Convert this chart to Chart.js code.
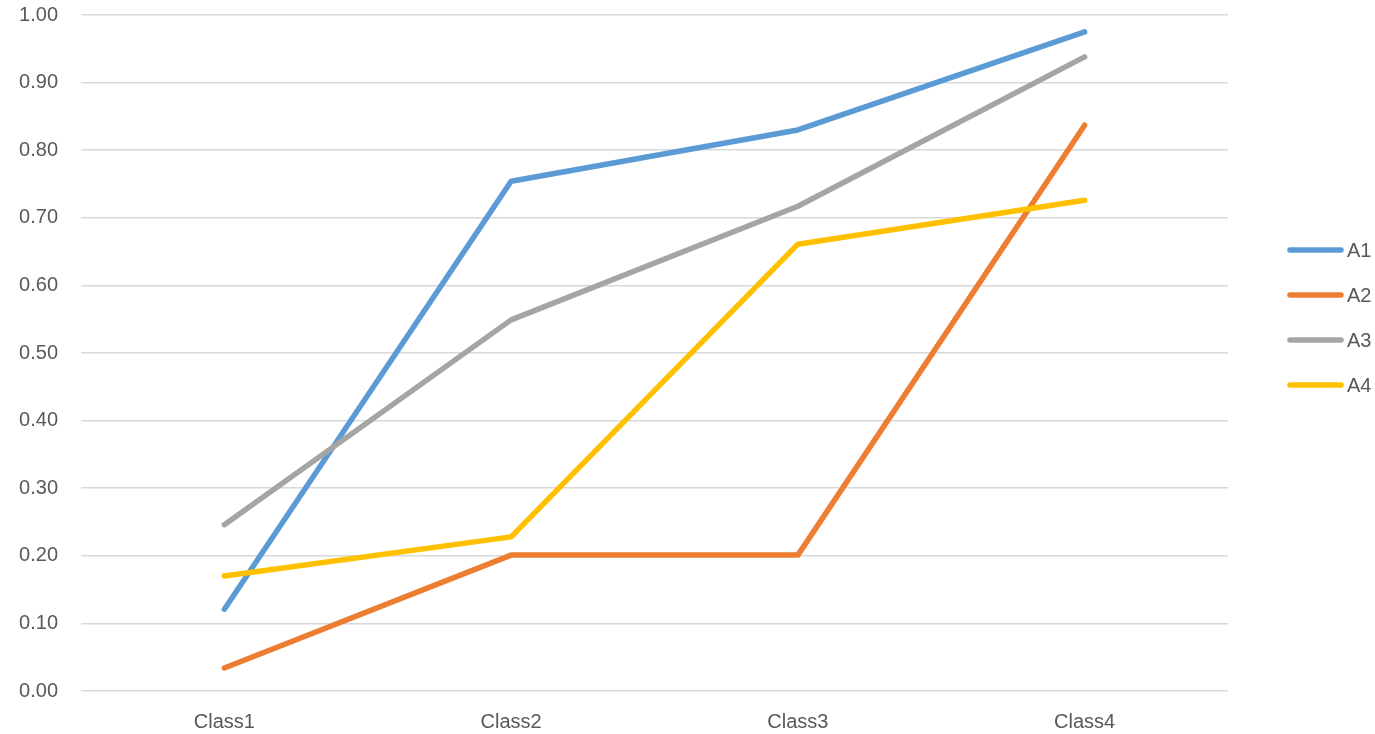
<!DOCTYPE html>
<html>
<head>
<meta charset="utf-8">
<script src="https://cdn.jsdelivr.net/npm/chart.js@4/dist/chart.umd.min.js"></script>
<style>
  html, body { margin: 0; padding: 0; background: #ffffff; }
  #wrap { position: relative; width: 1375px; height: 734px; }
</style>
</head>
<body>
<div id="wrap"><canvas id="chart" width="1375" height="734"></canvas></div>
<script>
// Categories and series values
const categories = ['Class1', 'Class2', 'Class3', 'Class4'];
const seriesNames = ['A1', 'A2', 'A3', 'A4'];
const a1 = [0.121, 0.754, 0.830, 0.975];
const a2 = [0.034, 0.201, 0.201, 0.837];
const a3 = [0.246, 0.549, 0.717, 0.938];
const a4 = [0.170, 0.228, 0.661, 0.726];
const seriesColors = ['#5b9bd5', '#ed7d31', '#a5a5a5', '#ffc000'];

const FONT = "'Liberation Sans', Arial, sans-serif";
const TEXT_COLOR = '#595959';

const values = [a1, a2, a3, a4];
const datasets = values.map((v, i) => ({
  label: seriesNames[i],
  data: v,
  borderColor: seriesColors[i],
  backgroundColor: seriesColors[i],
  borderWidth: 5.5,
  borderCapStyle: 'round',
  borderJoinStyle: 'round',
  pointRadius: 0,
  pointHoverRadius: 0,
  tension: 0,
  fill: false,
  order: values.length - i   // later series sit on top
}));

// Legend on the right: short line sample followed by the series name
const sideLegend = {
  id: 'sideLegend',
  afterDraw(chart) {
    const ctx = chart.ctx;
    ctx.save();
    ctx.font = '20px ' + FONT;
    ctx.textBaseline = 'middle';
    ctx.textAlign = 'left';
    const x0 = 1290, x1 = 1341, tx = 1347;
    const yStart = 250, step = 45;
    chart.data.datasets.forEach((ds, i) => {
      const y = yStart + i * step;
      ctx.strokeStyle = ds.borderColor;
      ctx.lineWidth = 5.5;
      ctx.lineCap = 'round';
      ctx.beginPath();
      ctx.moveTo(x0, y);
      ctx.lineTo(x1, y);
      ctx.stroke();
      ctx.fillStyle = TEXT_COLOR;
      ctx.fillText(ds.label, tx, y + 1);
    });
    ctx.restore();
  }
};

new Chart(document.getElementById('chart'), {
  type: 'line',
  data: { labels: categories, datasets },
  options: {
    responsive: false,
    animation: false,
    layout: { padding: { top: 15, right: 147, bottom: 0, left: 0 } },
    plugins: {
      legend: { display: false },
      tooltip: { enabled: false }
    },
    scales: {
      x: {
        offset: true,
        grid: { display: false, drawTicks: false },
        border: { display: false },
        ticks: {
          color: TEXT_COLOR,
          font: { family: FONT, size: 20 },
          padding: 19,
          maxRotation: 0
        },
        afterFit(scale) {
          scale.height = 43;
          scale.paddingLeft = 0;
          scale.paddingRight = 0;
        }
      },
      y: {
        min: 0,
        max: 1,
        grid: { color: '#d9d9d9', lineWidth: 1.5, drawTicks: false },
        border: { display: false },
        ticks: {
          stepSize: 0.1,
          color: TEXT_COLOR,
          font: { family: FONT, size: 20 },
          padding: 23,
          callback: (v) => Number(v).toFixed(2)
        },
        afterFit(scale) {
          scale.width = 81;
          scale.paddingTop = 0;
          scale.paddingBottom = 0;
        }
      }
    }
  },
  plugins: [sideLegend]
});
</script>
</body>
</html>
